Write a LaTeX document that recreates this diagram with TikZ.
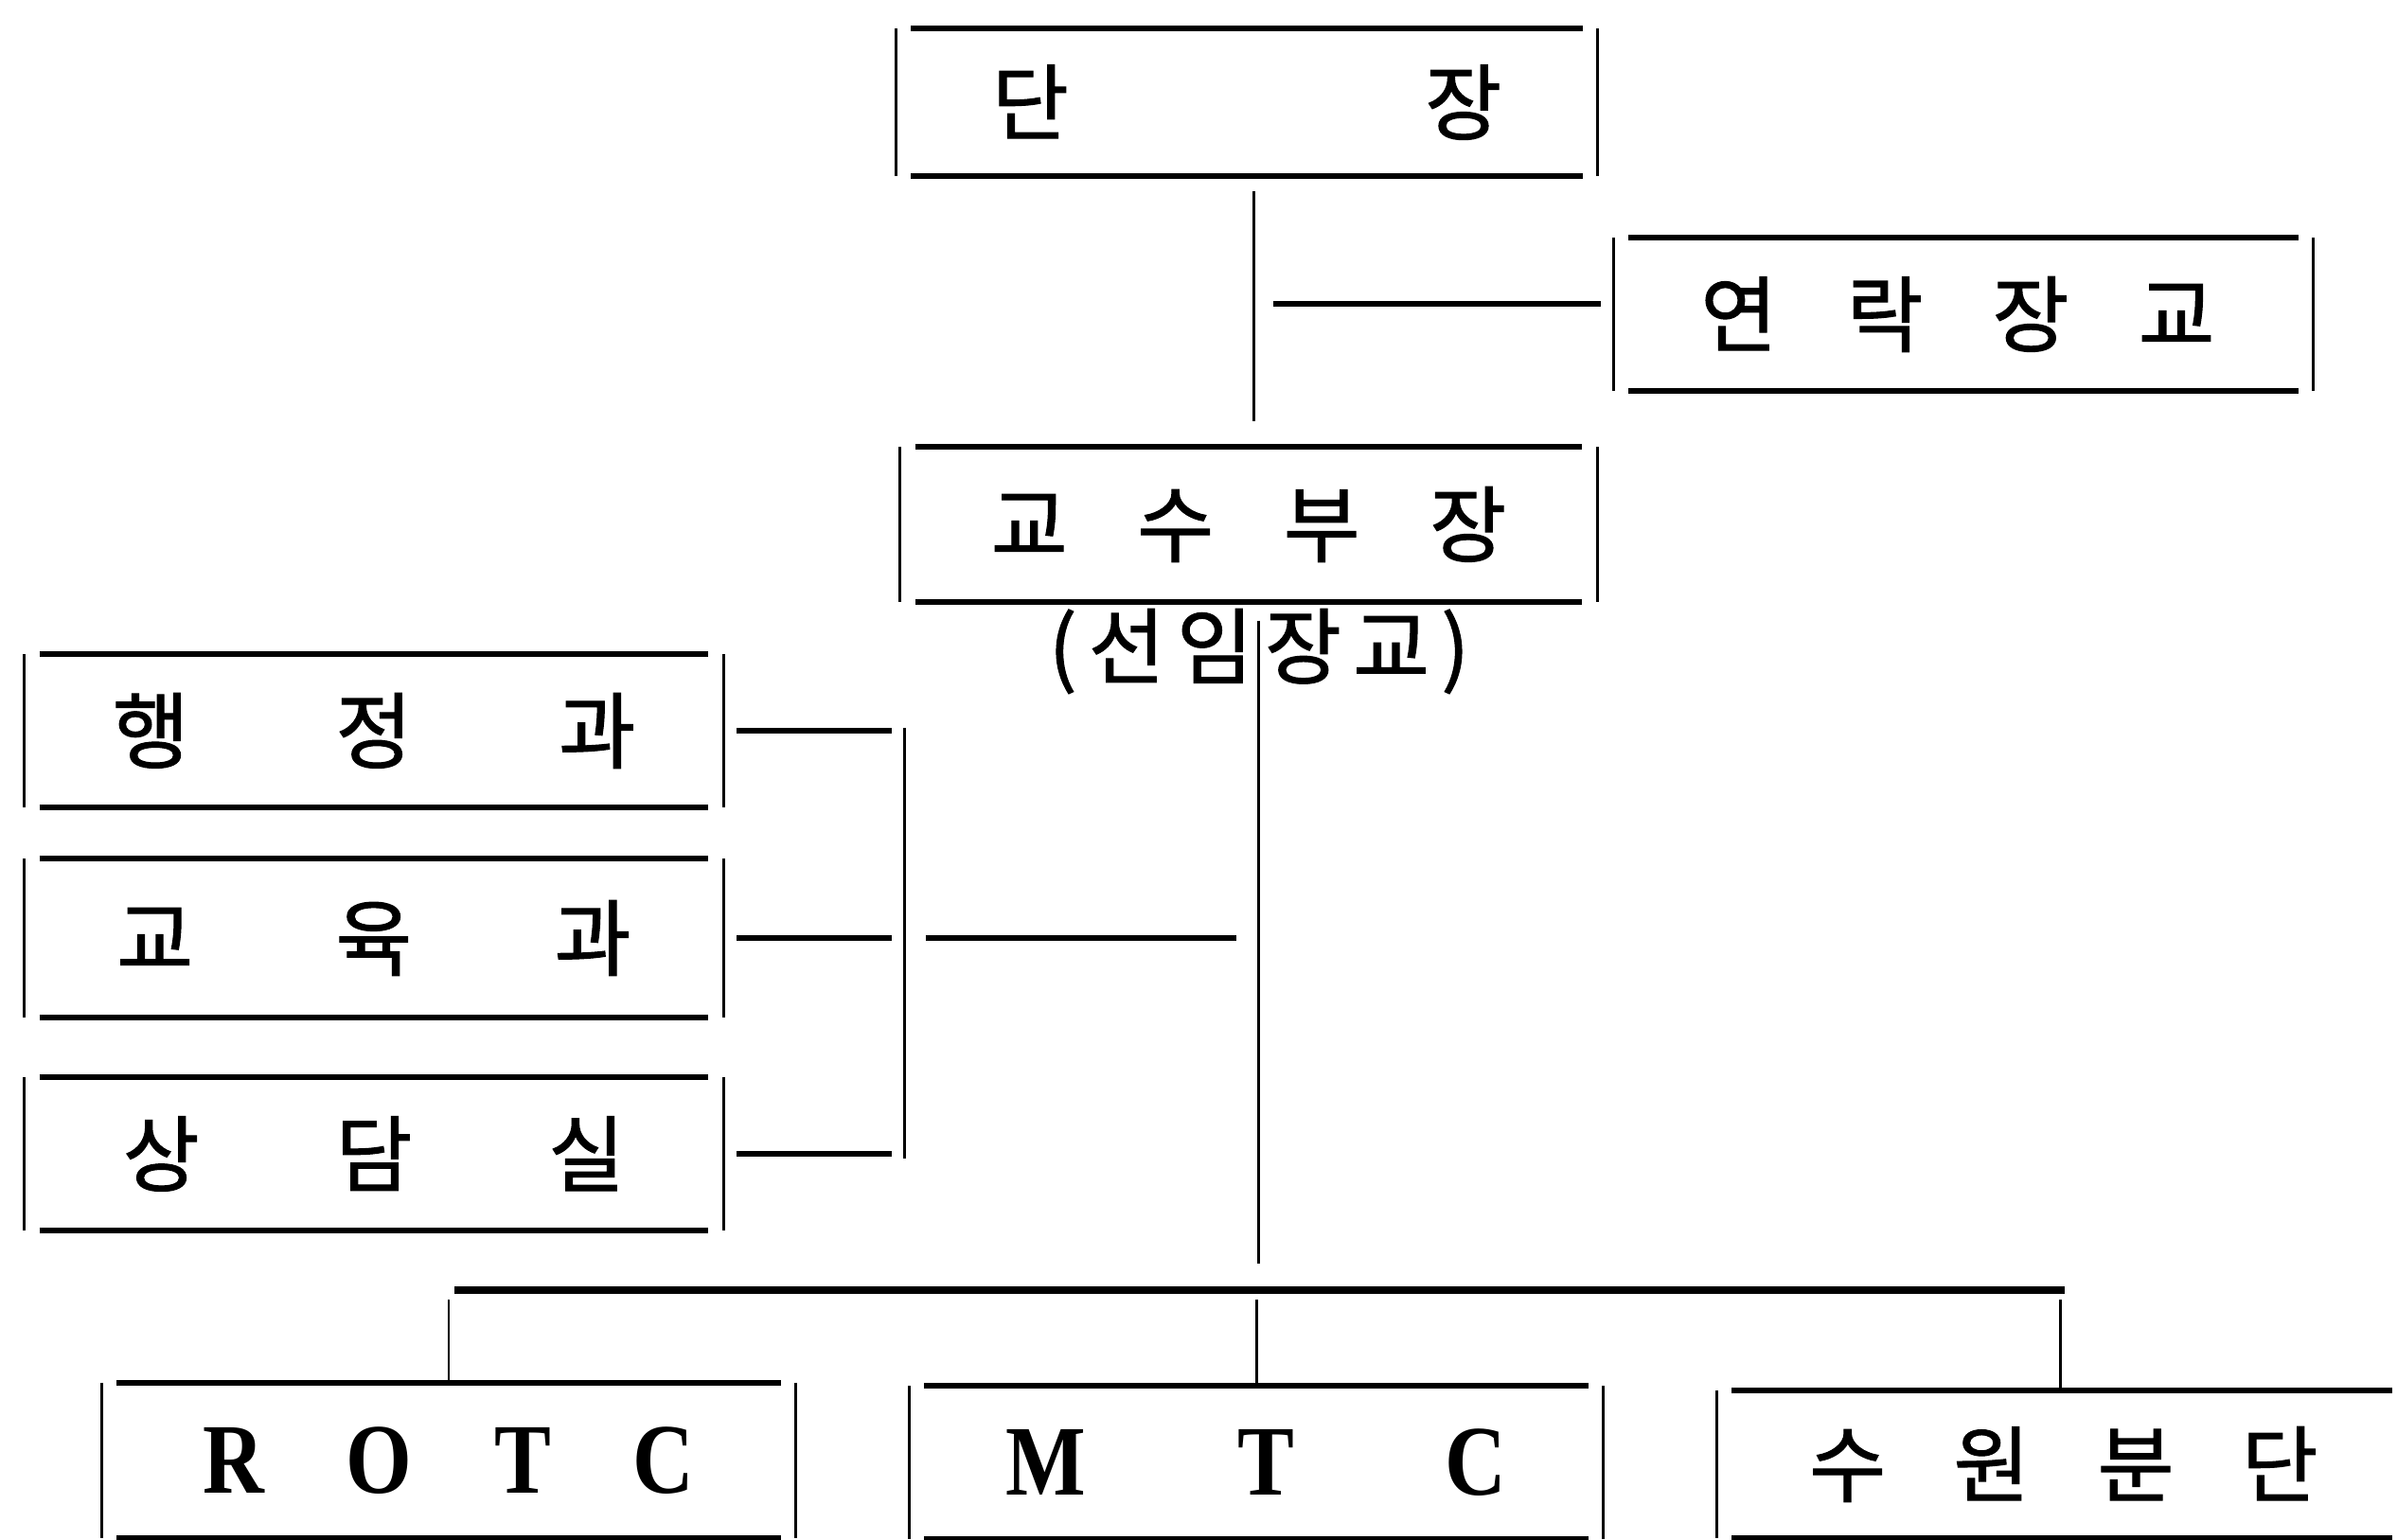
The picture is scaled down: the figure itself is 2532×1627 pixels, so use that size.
\documentclass[tikz,border=0pt]{standalone}
\usepackage{fontspec}
\setmainfont{Noto Sans CJK KR}
\newfontfamily\kofont{Noto Sans CJK KR}[FakeBold=1.2]
\newfontfamily\latinfont{Liberation Serif}[FakeStretch=0.85]
\usetikzlibrary{calc}
\newcommand\orgframe[1]{%
  \draw[hl] ($(#1.north west)+(16,0)$) -- ($(#1.north east)+(-16,0)$);
  \draw[hl] ($(#1.south west)+(16,0)$) -- ($(#1.south east)+(-16,0)$);
  \draw[sl] (#1.north west) -- (#1.south west);
  \draw[sl] (#1.north east) -- (#1.south east);}
\newcommand\orgframeopen[1]{%
  \draw[hl] ($(#1.north west)+(16,0)$) -- ($(#1.north east)+(-2,0)$);
  \draw[hl] ($(#1.south west)+(16,0)$) -- ($(#1.south east)+(-2,0)$);
  \draw[sl] (#1.north west) -- (#1.south west);}
\begin{document}
\begin{tikzpicture}[x=0.01cm,y=-0.01cm,
  orgbox/.style={rectangle, inner sep=0pt, font=\kofont\fontsize{25}{30}\selectfont},
  latbox/.style={rectangle, inner sep=0pt, font=\latinfont\fontsize{30}{34}\selectfont\bfseries},
  hl/.style={line width=1.7pt},
  sl/.style={line width=0.85pt},
  conn/.style={line width=0.85pt},
  hconn/.style={line width=1.6pt},
  busline/.style={line width=2pt}]
\useasboundingbox[fill=white] (0,0) rectangle (2532,1627);

% boxes
\node[orgbox, minimum width=7.40cm, minimum height=1.54cm] (dan) at (1317,108) {\makebox[5.38cm]{단\hfill 장}};
\node[orgbox, minimum width=7.38cm, minimum height=1.61cm] (yeon) at (2074,332) {\hspace*{-0.12cm}\makebox[5.43cm]{연\hfill 락\hfill 장\hfill 교}};
\node[orgbox, minimum width=7.35cm, minimum height=1.63cm] (gyo) at (1319,554) {\makebox[5.44cm]{교\hfill 수\hfill 부\hfill 장}};
\node[orgbox] (senior) at (1330,688) {\makebox[4.44cm]{(\hfill 선\hfill 임\hfill 장\hfill 교\hfill )}};
\node[orgbox, minimum width=7.37cm, minimum height=1.61cm] (haeng) at (395,772) {\makebox[5.52cm]{행\hfill 정\hfill 과}};
\node[orgbox, minimum width=7.37cm, minimum height=1.66cm] (gyoyuk) at (395,991) {\makebox[5.43cm]{교\hfill 육\hfill 과}};
\node[orgbox, minimum width=7.37cm, minimum height=1.61cm] (sangdam) at (395,1219) {\makebox[5.30cm]{상\hfill 담\hfill 실}};
\node[latbox, minimum width=7.32cm, minimum height=1.63cm] (rotc) at (474,1543) {\makebox[5.18cm]{R\hfill O\hfill T\hfill C}};
\node[latbox, minimum width=7.32cm, minimum height=1.60cm] (mtc) at (1327,1545) {\makebox[5.28cm]{M\hfill T\hfill C}};
\node[orgbox, minimum width=7.14cm, minimum height=1.55cm] (suwon) at (2171,1547) {\hspace*{0.18cm}\makebox[5.37cm]{수\hfill 원\hfill 분\hfill 단}};

\orgframe{dan}
\orgframe{yeon}
\orgframe{gyo}
\orgframe{haeng}
\orgframe{gyoyuk}
\orgframe{sangdam}
\orgframe{rotc}
\orgframe{mtc}
\orgframeopen{suwon}

% junctions
\coordinate (trunkA) at (1324,321);
\coordinate (trunkB) at (1329,1363);
\coordinate (brk) at (955,0);

% connectors
\draw[conn, shorten <=4.5pt, shorten >=7.7pt] (dan.south -| trunkA) -- (gyo.north -| trunkA);
\draw[hconn, shorten <=6pt, shorten >=3.7pt] (trunkA) -- (trunkA -| yeon.west);
\draw[conn, shorten <=5.5pt, shorten >=8pt] (gyo.south -| trunkB) -- (trunkB);
\foreach \b in {haeng,gyoyuk,sangdam}
  \draw[hconn, shorten <=4pt, shorten >=3.7pt] (\b.east) -- (\b.east -| brk);
\draw[conn] ($(brk |- haeng.east)+(0,-3)$) -- ($(brk |- sangdam.east)+(0,5)$);
\draw[hconn, shorten <=6.5pt, shorten >=6.5pt] (brk |- gyoyuk.east) -- (trunkB |- gyoyuk.east);
\draw[busline] ($(trunkB -| rotc.north)+(6,0)$) -- ($(trunkB -| suwon.north)+(10,0)$);
\foreach \b in {rotc,mtc}
  \draw[conn, shorten <=2.8pt, shorten >=0.8pt] (trunkB -| \b.north) -- (\b.north);
\draw[conn, shorten <=2.8pt, shorten >=0.8pt] ($(trunkB -| suwon.north)+(5,0)$) -- ($(suwon.north)+(5,0)$);
\end{tikzpicture}
\end{document}
